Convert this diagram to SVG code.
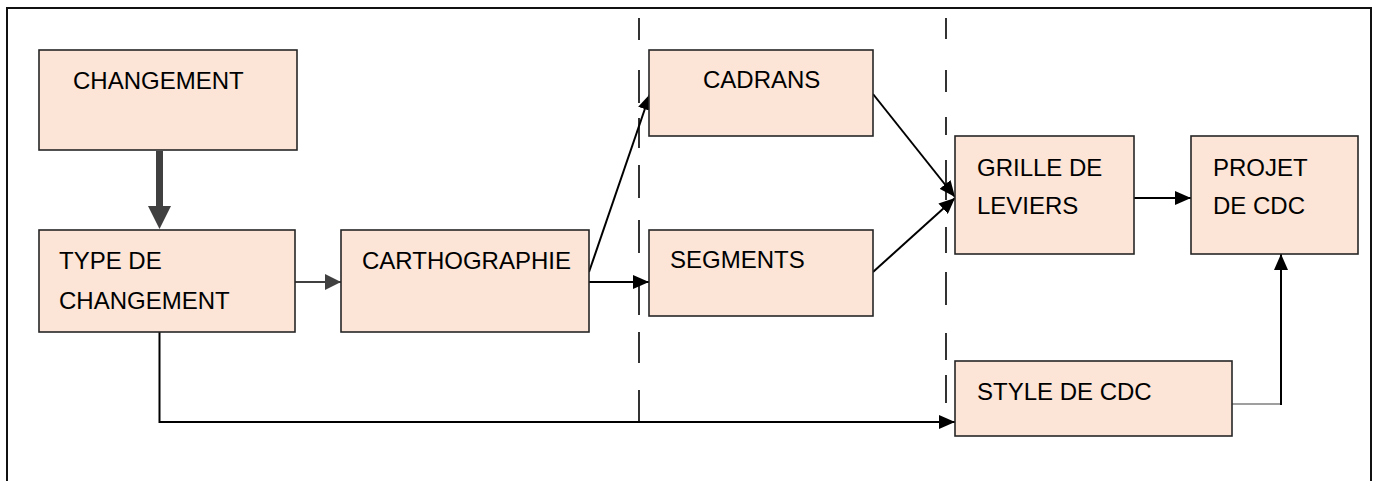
<svg xmlns="http://www.w3.org/2000/svg" width="1375" height="481" viewBox="0 0 1375 481">
  <style>
    .box { fill: #FCE4D6; stroke: #262626; stroke-width: 1.6; }
    .lbl { font-family: "Liberation Sans", Arial, sans-serif; font-size: 24px; fill: #000; }
    .wire { fill: none; stroke: #000; stroke-width: 2; }
    .grey { fill: none; stroke: #404040; stroke-width: 2; }
    .dash { fill: none; stroke: #000; stroke-width: 1.6; }
  </style>
  <defs>
    <marker id="head" viewBox="0 0 16 14" refX="16" refY="7" markerWidth="16" markerHeight="14" markerUnits="userSpaceOnUse" orient="auto">
      <path d="M0,0 L16,7 L0,14 Z" fill="#000"/>
    </marker>
    <marker id="headGrey" viewBox="0 0 16 16" refX="16" refY="8" markerWidth="16" markerHeight="16" markerUnits="userSpaceOnUse" orient="auto">
      <path d="M0,0 L16,8 L0,16 Z" fill="#404040"/>
    </marker>
  </defs>

  <!-- outer frame (open at the bottom) -->
  <path d="M7,481 L7,8 L1371,8 L1371,481" fill="none" stroke="#111" stroke-width="2"/>

  <!-- dashed separators -->
  <g id="separators">
    <path class="dash" d="M639,18 V40 M639,70 V103 M639,118 V148 M639,165 V198 M639,220 V253 M639,282 V315 M639,332 V363 M639,390 V422"/>
    <path class="dash" d="M946,18 V39 M946,70 V92 M946,117 V135 M946,160 V200 M946,227 V253 M946,272 V305 M946,333 V360 M946,375 V403"/>
  </g>

  <g id="connectors">
    <!-- CHANGEMENT -> TYPE DE CHANGEMENT (bold) -->
    <path d="M156,151 H163 V206 H171 L159.5,229 L148,206 H156 Z" fill="#404040"/>
    <!-- TYPE -> CARTHOGRAPHIE -->
    <line class="grey" x1="295" y1="282" x2="341" y2="282" marker-end="url(#headGrey)"/>
    <!-- CARTHOGRAPHIE -> SEGMENTS -->
    <line class="wire" x1="589" y1="282" x2="649" y2="282" marker-end="url(#head)"/>
    <!-- CARTHOGRAPHIE -> CADRANS -->
    <line class="wire" x1="589" y1="272" x2="650" y2="94" marker-end="url(#head)"/>
    <!-- CADRANS -> GRILLE -->
    <line class="wire" x1="873" y1="94" x2="955" y2="197" marker-end="url(#head)"/>
    <!-- SEGMENTS -> GRILLE -->
    <line class="wire" x1="873" y1="272" x2="955" y2="198" marker-end="url(#head)"/>
    <!-- GRILLE -> PROJET -->
    <line class="wire" x1="1134" y1="198" x2="1191" y2="198" marker-end="url(#head)"/>
    <!-- TYPE -> STYLE DE CDC -->
    <path class="wire" d="M159.5,332 V422 H955" marker-end="url(#head)"/>
    <!-- STYLE DE CDC -> PROJET -->
    <path fill="none" stroke="#404040" stroke-width="1.2" d="M1232,404 H1281"/>
    <path class="wire" d="M1281,405 V254" marker-end="url(#head)"/>
  </g>

  <g id="changement">
    <rect class="box" x="39" y="50" width="258" height="100"/>
    <text class="lbl" x="73" y="89">CHANGEMENT</text>
  </g>
  <g id="type-de-changement">
    <rect class="box" x="39" y="230" width="256" height="102"/>
    <text class="lbl" x="59" y="269">TYPE DE</text>
    <text class="lbl" x="59" y="309">CHANGEMENT</text>
  </g>
  <g id="carthographie">
    <rect class="box" x="341" y="230" width="248" height="102"/>
    <text class="lbl" x="362" y="269">CARTHOGRAPHIE</text>
  </g>
  <g id="cadrans">
    <rect class="box" x="649" y="50" width="224" height="86"/>
    <text class="lbl" x="703" y="88">CADRANS</text>
  </g>
  <g id="segments">
    <rect class="box" x="649" y="230" width="224" height="86"/>
    <text class="lbl" x="670" y="268">SEGMENTS</text>
  </g>
  <g id="grille-de-leviers">
    <rect class="box" x="955" y="136" width="179" height="118"/>
    <text class="lbl" x="977" y="176">GRILLE DE</text>
    <text class="lbl" x="977" y="214">LEVIERS</text>
  </g>
  <g id="projet-de-cdc">
    <rect class="box" x="1191" y="136" width="167" height="118"/>
    <text class="lbl" x="1213" y="176">PROJET</text>
    <text class="lbl" x="1213" y="214">DE CDC</text>
  </g>
  <g id="style-de-cdc">
    <rect class="box" x="955" y="361" width="277" height="75"/>
    <text class="lbl" x="977" y="400">STYLE DE CDC</text>
  </g>
</svg>
